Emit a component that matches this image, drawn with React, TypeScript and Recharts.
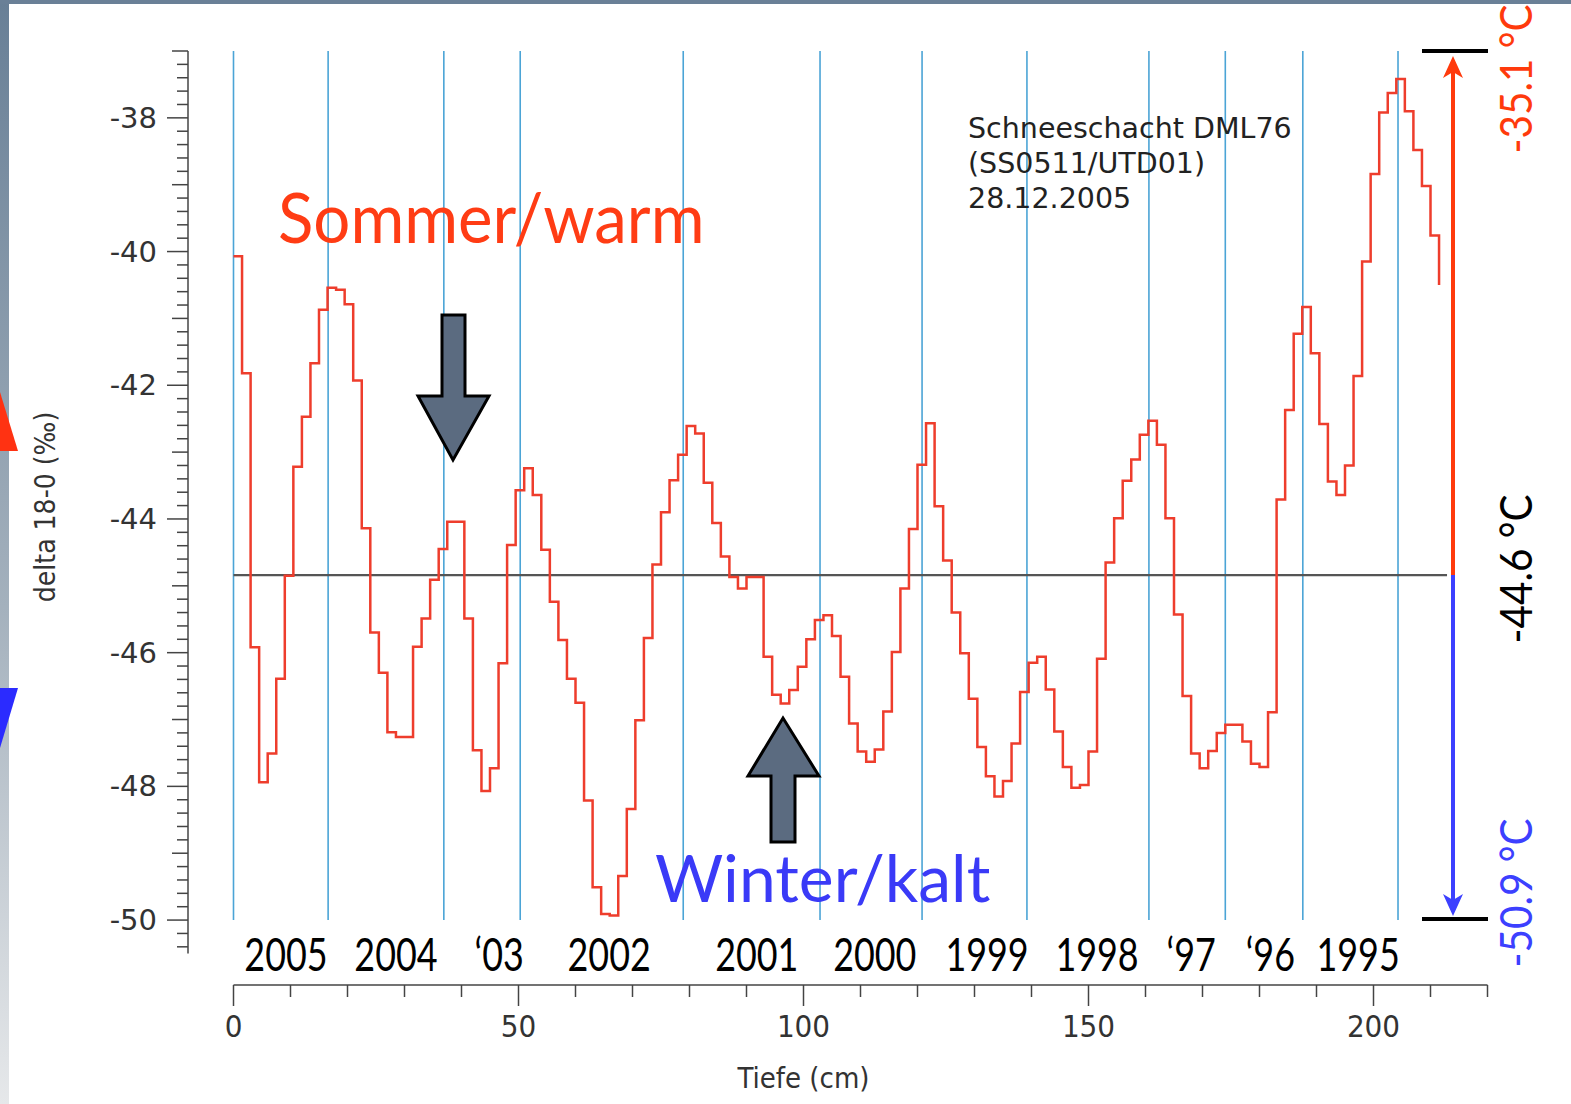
import React from "react"
import { Line, LineChart, ReferenceLine, XAxis, YAxis } from "recharts"

// Schneeschacht DML76 – delta 18-O profile, one sample every 1.5 cm
const depthCm = [
  0, 1.5, 3, 4.5, 6, 7.5, 9, 10.5, 12, 13.5,
  15, 16.5, 18, 19.5, 21, 22.5, 24, 25.5, 27, 28.5,
  30, 31.5, 33, 34.5, 36, 37.5, 39, 40.5, 42, 43.5,
  45, 46.5, 48, 49.5, 51, 52.5, 54, 55.5, 57, 58.5,
  60, 61.5, 63, 64.5, 66, 67.5, 69, 70.5, 72, 73.5,
  75, 76.5, 78, 79.5, 81, 82.5, 84, 85.5, 87, 88.5,
  90, 91.5, 93, 94.5, 96, 97.5, 99, 100.5, 102, 103.5,
  105, 106.5, 108, 109.5, 111, 112.5, 114, 115.5, 117, 118.5,
  120, 121.5, 123, 124.5, 126, 127.5, 129, 130.5, 132, 133.5,
  135, 136.5, 138, 139.5, 141, 142.5, 144, 145.5, 147, 148.5,
  150, 151.5, 153, 154.5, 156, 157.5, 159, 160.5, 162, 163.5,
  165, 166.5, 168, 169.5, 171, 172.5, 174, 175.5, 177, 178.5,
  180, 181.5, 183, 184.5, 186, 187.5, 189, 190.5, 192, 193.5,
  195, 196.5, 198, 199.5, 201, 202.5, 204, 205.5, 207, 208.5,
  210, 211.5,
]

const delta18O = [
  -40.07, -41.82, -45.92, -47.94, -47.51, -46.39, -44.85, -43.22, -42.47, -41.67,
  -40.87, -40.54, -40.57, -40.79, -41.93, -44.14, -45.70, -46.30, -47.19, -47.26,
  -47.26, -45.91, -45.49, -44.91, -44.45, -44.04, -44.04, -45.49, -47.46, -48.07,
  -47.73, -46.16, -44.39, -43.57, -43.24, -43.64, -44.46, -45.24, -45.81, -46.39,
  -46.75, -48.21, -49.51, -49.91, -49.93, -49.34, -48.34, -47.01, -45.78, -44.68,
  -43.90, -43.42, -43.04, -42.61, -42.72, -43.46, -44.06, -44.56, -44.87, -45.04,
  -44.87, -44.87, -46.06, -46.63, -46.76, -46.56, -46.21, -45.80, -45.51, -45.44,
  -45.75, -46.36, -47.06, -47.48, -47.63, -47.45, -46.88, -45.99, -45.04, -44.15,
  -43.19, -42.57, -43.81, -44.62, -45.40, -46.01, -46.69, -47.41, -47.85, -48.15,
  -47.92, -47.36, -46.59, -46.15, -46.06, -46.55, -47.18, -47.71, -48.02, -47.98,
  -47.48, -46.09, -44.65, -43.99, -43.43, -43.11, -42.74, -42.53, -42.89, -43.99,
  -45.43, -46.65, -47.51, -47.73, -47.47, -47.20, -47.08, -47.08, -47.33, -47.66,
  -47.71, -46.89, -43.71, -42.37, -41.23, -40.83, -41.52, -42.58, -43.44, -43.64,
  -43.20, -41.86, -40.15, -38.84, -37.92, -37.63, -37.42, -37.90, -38.48, -39.02,
  -39.76, -40.50,
]

// year boundaries (blue lines) and labels, depth in cm
const yearBounds = [0, 16.6, 36.9, 50.3, 78.9, 102.9, 120.8, 139.2, 160.6, 174.0, 187.6, 204.3]
const yearLabels = ["2005", "2004", "\u201803", "2002", "2001", "2000", "1999", "1998", "\u201897", "\u201896", "1995"]
const yearLabelDepth = [9.2, 28.5, 46.6, 65.9, 91.8, 112.5, 132.2, 151.5, 168.0, 181.9, 197.3]

const meanDelta = -44.84
const meanEndDepth = 212.9

const yMajorTicks = [-50, -48, -46, -44, -42, -40, -38]
const xMajorTicks = [0, 50, 100, 150, 200]

const tempWarm = "-35.1 °C"
const tempMean = "-44.6 °C"
const tempCold = "-50.9 °C"

const data = depthCm.map((d, i) => ({ depth: d, d18o: delta18O[i] }))

// layout
const W = 1571
const H = 1104
const Y_AXIS_X = 188
const X0 = 233.5 // pixel of depth 0
const PX_PER_CM = 5.7
const X_MAX = 220
const Y_MIN = -50.5
const Y_MAX = -37
const PLOT_TOP = 51
const PLOT_BOTTOM = 953.5
const X_AXIS_Y = 985
const pxPerUnit = (PLOT_BOTTOM - PLOT_TOP) / (Y_MAX - Y_MIN)
const xPx = (cm: number) => X0 + cm * PX_PER_CM
const yPx = (v: number) => PLOT_TOP + (Y_MAX - v) * pxPerUnit

// minor ticks every 0.2 on y, every 10 on x
const yTicks: number[] = []
for (let i = 0; i <= 67; i++) yTicks.push(Math.round((-50.4 + 0.2 * i) * 10) / 10)
const xTicks: number[] = []
for (let v = 0; v <= X_MAX; v += 10) xTicks.push(v)

const axisColor = "#444"
const tickFont = "'DejaVu Sans', Verdana, sans-serif"
const narrowFont = "'Liberation Sans Narrow', 'DejaVu Sans Condensed', 'DejaVu Sans', sans-serif"
const slideFont = "Lato, 'Open Sans', sans-serif"

const YTick = ({ x, y, payload }: any) => {
  const v = payload.value
  const whole = Math.abs(v - Math.round(v)) < 1e-6
  const major = whole && yMajorTicks.includes(Math.round(v))
  const len = major ? 21 : whole ? 16 : 11
  return (
    <g>
      <line x1={x - len} x2={x} y1={y} y2={y} stroke={axisColor} strokeWidth={1.5} />
      {major && (
        <text x={x - 31} y={y} textAnchor="end" dominantBaseline="central" fontSize={29} fontFamily={tickFont} fill="#333">
          {Math.round(v)}
        </text>
      )}
    </g>
  )
}

const XTick = ({ x, y, payload }: any) => {
  const v = payload.value
  const major = xMajorTicks.includes(v)
  return (
    <g>
      <line x1={x} x2={x} y1={y} y2={y + (major ? 21 : 12)} stroke={axisColor} strokeWidth={1.5} />
      {major && (
        <text x={x} y={y + 52} textAnchor="middle" fontSize={31} fontFamily={tickFont} fontStretch="condensed" fill="#333">
          {v}
        </text>
      )}
    </g>
  )
}

export default function App() {
  const yMean = yPx(meanDelta)
  const yTop = yPx(-37)
  const yBottom = yPx(-50)
  const arrowX = 1453
  return (
    <div style={{ position: "relative", width: W, height: H, background: "#fff", overflow: "hidden" }}>
      <style>{"body{margin:0}"}</style>

      <div style={{ position: "absolute", left: 0, top: 0 }}>
        <LineChart width={W} height={H} data={data}
          margin={{ top: PLOT_TOP, right: W - xPx(X_MAX), bottom: H - PLOT_BOTTOM, left: 0 }}>
          <XAxis dataKey="depth" type="number" domain={[(Y_AXIS_X - X0) / PX_PER_CM, X_MAX]} hide />
          <YAxis type="number" domain={[Y_MIN, Y_MAX]} ticks={yTicks} interval={0} width={Y_AXIS_X}
            tickSize={0} tickMargin={0} tickLine={false}
            axisLine={{ stroke: axisColor, strokeWidth: 1.5 }}
            tick={(p: any) => <YTick {...p} />} />
          {yearBounds.map((d) => (
            <ReferenceLine key={d} segment={[{ x: d, y: -50 }, { x: d, y: -37 }]}
              stroke="#4ba4d6" strokeWidth={1.6} />
          ))}
          <ReferenceLine segment={[{ x: 0, y: meanDelta }, { x: meanEndDepth, y: meanDelta }]}
            stroke="#555" strokeWidth={2.4} />
          <Line type="stepAfter" dataKey="d18o" stroke="#ee3d2c" strokeWidth={2.5}
            dot={false} activeDot={false} isAnimationActive={false} />
        </LineChart>
      </div>

      <div style={{ position: "absolute", left: 0, top: 0, pointerEvents: "none" }}>
        <LineChart width={W} height={H} data={data}
          margin={{ top: 900, right: W - xPx(X_MAX), bottom: H - X_AXIS_Y - 100, left: X0 }}>
          <XAxis dataKey="depth" type="number" domain={[0, X_MAX]} ticks={xTicks} interval={0} height={100}
            tickSize={0} tickMargin={0} tickLine={false}
            axisLine={{ stroke: axisColor, strokeWidth: 1.5 }}
            tick={(p: any) => <XTick {...p} />}
            label={(p: any) => {
              const vb = p.viewBox
              return (
                <text x={vb.x + (vb.width * 100) / X_MAX} y={vb.y + 103} textAnchor="middle"
                  fontSize={29} fontFamily={tickFont} fontStretch="condensed" fill="#333">
                  Tiefe (cm)
                </text>
              )
            }} />
          <YAxis hide domain={[0, 1]} />
        </LineChart>
      </div>

      <svg width={W} height={H} style={{ position: "absolute", left: 0, top: 0, pointerEvents: "none" }}>
        <defs>
          <linearGradient id="edge" x1="0" y1="0" x2="0" y2="1">
            <stop offset="0%" stopColor="#687f96" />
            <stop offset="55%" stopColor="#a4b1bd" />
            <stop offset="100%" stopColor="#e6e8ea" />
          </linearGradient>
        </defs>
        {/* slide edges */}
        <rect x={0} y={0} width={9} height={H} fill="url(#edge)" />
        <rect x={0} y={0} width={W} height={4} fill="#6a8097" />
        <polygon points="0,392 18,451 0,451" fill="#ff3212" />
        <polygon points="0,688 18,688 0,748" fill="#2b2bff" />

        {/* y axis title */}
        <text transform="translate(55,507) rotate(-90)" textAnchor="middle" fontSize={28}
          fontFamily={narrowFont} fontStretch="condensed" fill="#333">
          delta 18-0 (‰)
        </text>

        {/* core label */}
        <g fontSize={28.5} fontFamily={tickFont} fill="#222">
          <text x={968} y={138}>Schneeschacht DML76</text>
          <text x={968} y={173}>(SS0511/UTD01)</text>
          <text x={968} y={208}>28.12.2005</text>
        </g>

        {/* year labels */}
        {yearLabels.map((t, i) => (
          <text key={t} transform={`translate(${xPx(yearLabelDepth[i])},971) scale(0.78,1)`}
            textAnchor="middle" fontSize={46} fontFamily={slideFont} fill="#000">
            {t}
          </text>
        ))}

        {/* season captions */}
        <text transform="translate(278,243) scale(0.935,1)" fontSize={70} fontFamily={slideFont} fill="#ff3c14">
          Sommer/warm
        </text>
        <text transform="translate(655,902)" fontSize={66} fontFamily={slideFont} fill="#3a3af7">
          Winter/kalt
        </text>

        {/* block arrows */}
        <polygon points="442,315 465,315 465,396 489,396 453,460 418,396 442,396"
          fill="#5b6b80" stroke="#000" strokeWidth={3} strokeLinejoin="miter" />
        <polygon points="771,842 795,842 795,776 819,776 783,718 748,776 771,776"
          fill="#5b6b80" stroke="#000" strokeWidth={3} strokeLinejoin="miter" />

        {/* temperature range */}
        <line x1={1422} x2={1488} y1={yTop} y2={yTop} stroke="#000" strokeWidth={4} />
        <line x1={1422} x2={1488} y1={yBottom - 1} y2={yBottom - 1} stroke="#000" strokeWidth={4} />
        <line x1={arrowX} x2={arrowX} y1={yMean} y2={yTop + 18} stroke="#ff3a0c" strokeWidth={4} />
        <polygon points={`${arrowX},${yTop + 5} ${arrowX + 10},${yTop + 27} ${arrowX},${yTop + 21} ${arrowX - 10},${yTop + 27}`} fill="#ff3a0c" />
        <line x1={arrowX} x2={arrowX} y1={yMean} y2={yBottom - 18} stroke="#3c40ff" strokeWidth={4} />
        <polygon points={`${arrowX},${yBottom - 4} ${arrowX + 10},${yBottom - 26} ${arrowX},${yBottom - 20} ${arrowX - 10},${yBottom - 26}`} fill="#3c40ff" />

        <text transform="translate(1532,79) rotate(-90) scale(0.92,1)" textAnchor="middle" fontSize={44} fontFamily={slideFont} fill="#ff3a0c">
          {tempWarm}
        </text>
        <text transform="translate(1532,569) rotate(-90) scale(0.92,1)" textAnchor="middle" fontSize={44} fontFamily={slideFont} fill="#000">
          {tempMean}
        </text>
        <text transform="translate(1532,893) rotate(-90) scale(0.92,1)" textAnchor="middle" fontSize={44} fontFamily={slideFont} fill="#3c40ff">
          {tempCold}
        </text>
      </svg>
    </div>
  )
}
